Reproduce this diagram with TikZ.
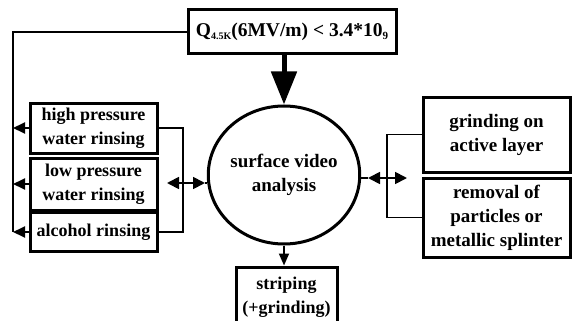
\documentclass[tikz,border=0pt]{standalone}
\usepackage{fontspec}
\setmainfont{Liberation Serif}
\usetikzlibrary{arrows.meta,shapes.geometric}
\tikzset{
  boxnode/.style={draw,line width=3pt,rectangle,inner sep=0pt,align=center,
    font=\bfseries\fontsize{18}{24}\selectfont},
  bigtext/.style={font=\bfseries\fontsize{19}{24}\selectfont},
  conn/.style={line width=1.8pt},
  smalltip/.style={-{Triangle[length=12pt,width=11pt]}},
  dbltip/.style={{Triangle[length=12pt,width=12pt]}-{Triangle[length=12pt,width=12pt]}},
}
\begin{document}
\begin{tikzpicture}[x=1pt,y=-1pt]
\useasboundingbox (0,0) rectangle (573,321);
\clip (0,0) rectangle (573,321);
% nodes
\node[boxnode,minimum width=208pt,minimum height=44pt,font=\bfseries\fontsize{19.5}{24}\selectfont] (top) at (292,32)
  {Q\raisebox{-0.35ex}{\fontsize{10}{10}\selectfont 4.5K}(6MV/m) < 3.4*10\raisebox{-0.35ex}{\fontsize{11}{11}\selectfont 9}};
\node[draw,ellipse,line width=3pt,minimum width=144pt,minimum height=138pt,inner sep=0pt,
  align=center,bigtext] (circ) at (284,175)
  {surface video\\analysis};
\node[boxnode,minimum width=127pt,minimum height=50pt] (high) at (93.5,128) {high pressure\\water rinsing};
\node[boxnode,minimum width=127pt,minimum height=52pt] (low) at (93.5,184) {low pressure\\water rinsing};
\node[boxnode,minimum width=127pt,minimum height=39pt] (alc) at (93.5,232) {alcohol rinsing};
\node[boxnode,minimum width=147pt,minimum height=75pt,bigtext] (grind) at (496.5,134.5) {grinding on\\active layer};
\node[boxnode,minimum width=147pt,minimum height=79pt,bigtext] (remov) at (496.5,217.5) {removal of\\particles or\\metallic splinter};
\node[boxnode,minimum width=101pt,minimum height=60pt] (strip) at (286.5,297) {striping\\(+grinding)};
% coordinates
\coordinate (lx) at (13,0);
\coordinate (lbx) at (183,0);
\coordinate (la1) at (167,183);
\coordinate (la2) at (205,183);
\coordinate (rbx) at (387,0);
\coordinate (ra1) at (368,178);
\coordinate (ra2) at (407,178);
% top arrow
\draw[line width=5pt,-{Triangle[length=33pt,width=25pt]}] (top.south -| circ.north) -- (circ.north);
% bottom arrow
\draw[conn,-{Triangle[length=12pt,width=10pt]}] (circ.south) -- (strip.north -| circ.south);
% left feedback line
\draw[conn] (top.west) -| (lx |- alc.west);
\draw[conn,smalltip] (high.west) -- (high.west -| lx);
\draw[conn,smalltip] (low.west) -- (low.west -| lx);
\draw[conn,smalltip] (alc.west) -- (alc.west -| lx);
% left bracket
\draw[conn] (high.east) -- (high.east -| lbx) |- (alc.east);
\draw[conn,dbltip] (la1) -- (la2);
\draw[conn] (la2) -- (la2 -| circ.west);
% right bracket
\draw[conn] (grind.west) -- (grind.west -| rbx) |- (remov.west);
\draw[conn] (ra1 -| circ.east) -- (ra1);
\draw[conn,dbltip] (ra1) -- (ra2);
\end{tikzpicture}
\end{document}
